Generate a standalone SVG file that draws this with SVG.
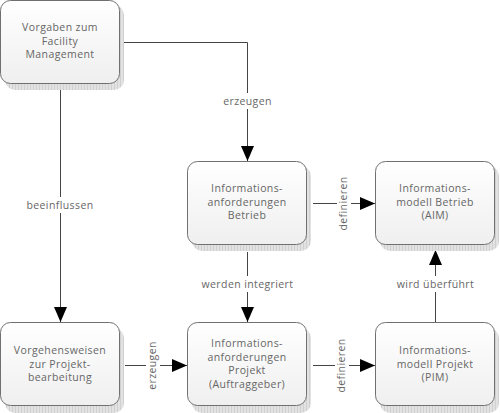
<svg xmlns="http://www.w3.org/2000/svg" width="500" height="413" viewBox="0 0 500 413">
<defs>
<linearGradient id="bg" x1="0" y1="0" x2="0" y2="1">
<stop offset="0" stop-color="#ffffff"/>
<stop offset="1" stop-color="#efefef"/>
</linearGradient>
<pattern id="sh" width="3" height="3" patternUnits="userSpaceOnUse">
<rect width="3" height="3" fill="#e2e2e2"/>
<rect width="1" height="3" fill="#d0d0d0"/>
</pattern>
<marker id="ah" markerWidth="15" markerHeight="13" refX="15" refY="6.5" orient="auto" markerUnits="userSpaceOnUse">
<path d="M0,0 L15,6.5 L0,13 Z" fill="#000"/>
</marker>
</defs>
<style>
.box{fill:url(#bg);stroke:#707070;stroke-width:1}
.shadow{fill:url(#sh)}
.t{font-family:"Open Sans","DejaVu Sans",sans-serif;font-size:10.5px;fill:#666;text-anchor:middle;letter-spacing:0.4px}
.c{fill:none;stroke:#444;stroke-width:1}
.lbg{fill:#fff}
</style>
<g id="connectors">
<path class="c" d="M60.5,90 V322" marker-end="url(#ah)"/>
<path class="c" d="M124,42.5 H247.5 V161" marker-end="url(#ah)"/>
<path class="c" d="M313,203.5 H375" marker-end="url(#ah)"/>
<path class="c" d="M247.5,252 V322" marker-end="url(#ah)"/>
<path class="c" d="M125,365.5 H187" marker-end="url(#ah)"/>
<path class="c" d="M313,365.5 H375" marker-end="url(#ah)"/>
<path class="c" d="M435.5,322 V250" marker-end="url(#ah)"/>
<rect class="lbg" x="24" y="197" width="72" height="16"/>
<text class="t" x="60" y="209">beeinflussen</text>
<rect class="lbg" x="220" y="93" width="55" height="16"/>
<text class="t" x="247.5" y="105">erzeugen</text>
<rect class="lbg" x="196" y="276" width="103" height="16"/>
<text class="t" x="247.5" y="288">werden integriert</text>
<rect class="lbg" x="391" y="276" width="89" height="16"/>
<text class="t" x="435.5" y="288">wird überführt</text>
<rect class="lbg" x="337" y="175" width="14" height="56"/>
<text class="t" transform="translate(347,203.5) rotate(-90)">definieren</text>
<rect class="lbg" x="146" y="339" width="14" height="52"/>
<text class="t" transform="translate(156,365.5) rotate(-90)">erzeugen</text>
<rect class="lbg" x="335" y="337" width="14" height="56"/>
<text class="t" transform="translate(345,365.5) rotate(-90)">definieren</text>
</g>
<g id="n1">
<rect class="shadow" x="5" y="5" width="119" height="85" rx="10"/>
<rect class="box" x="0.5" y="0.5" width="119" height="83" rx="10"/>
<text class="t" x="60" y="31">Vorgaben zum</text>
<text class="t" x="60" y="44.5">Facility</text>
<text class="t" x="60" y="58">Management</text>
</g>
<g id="n2">
<rect class="shadow" x="192" y="166" width="119" height="85" rx="10"/>
<rect class="box" x="187.5" y="161.5" width="119" height="83" rx="10"/>
<text class="t" x="247" y="192">Informations-</text>
<text class="t" x="247" y="205.5">anforderungen</text>
<text class="t" x="247" y="219">Betrieb</text>
</g>
<g id="n3">
<rect class="shadow" x="380" y="166" width="119" height="85" rx="10"/>
<rect class="box" x="375.5" y="161.5" width="119" height="83" rx="10"/>
<text class="t" x="435" y="192">Informations-</text>
<text class="t" x="435" y="205.5">modell Betrieb</text>
<text class="t" x="435" y="219">(AIM)</text>
</g>
<g id="n4">
<rect class="shadow" x="5" y="328" width="119" height="85" rx="10"/>
<rect class="box" x="0.5" y="322.5" width="119" height="83" rx="10"/>
<text class="t" x="60" y="354">Vorgehensweisen</text>
<text class="t" x="60" y="367.5">zur Projekt-</text>
<text class="t" x="60" y="381">bearbeitung</text>
</g>
<g id="n5">
<rect class="shadow" x="192" y="328" width="119" height="85" rx="10"/>
<rect class="box" x="187.5" y="322.5" width="119" height="83" rx="10"/>
<text class="t" x="247" y="347">Informations-</text>
<text class="t" x="247" y="360.5">anforderungen</text>
<text class="t" x="247" y="374">Projekt</text>
<text class="t" x="247" y="387.5">(Auftraggeber)</text>
</g>
<g id="n6">
<rect class="shadow" x="380" y="328" width="119" height="85" rx="10"/>
<rect class="box" x="375.5" y="322.5" width="119" height="83" rx="10"/>
<text class="t" x="435" y="354">Informations-</text>
<text class="t" x="435" y="367.5">modell Projekt</text>
<text class="t" x="435" y="381">(PIM)</text>
</g>
</svg>
